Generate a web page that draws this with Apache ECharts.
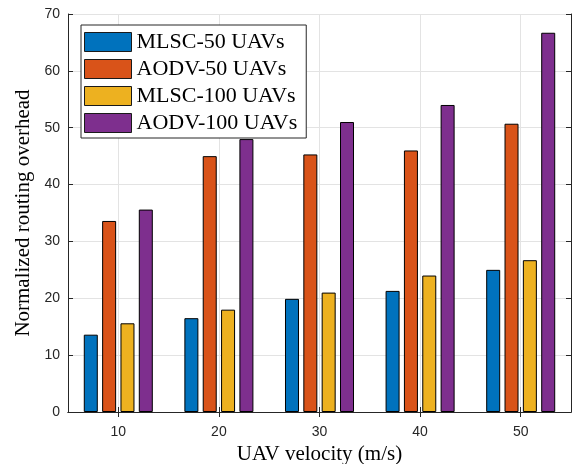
<!DOCTYPE html>
<html>
<head>
<meta charset="utf-8">
<script src="https://cdn.jsdelivr.net/npm/echarts@6/dist/echarts.min.js"></script>
<style>
  html, body { margin: 0; padding: 0; background: #fff; }
  #chart { width: 578px; height: 464px; }
</style>
</head>
<body>
<div id="chart"></div>
<script>
// UAV velocity groups (m/s)
const categories = ['10', '20', '30', '40', '50'];

// Normalized routing overhead per protocol / swarm size
const mlsc50 = [13.6, 16.5, 19.9, 21.3, 25.0];
const aodv50 = [33.6, 45.0, 45.3, 46.0, 50.7];
const mlsc100 = [15.6, 18.0, 21.0, 24.0, 26.7];
const aodv100 = [35.6, 48.0, 51.0, 54.0, 66.7];

const seriesNames = ['MLSC-50 UAVs', 'AODV-50 UAVs', 'MLSC-100 UAVs', 'AODV-100 UAVs'];
const seriesColors = ['#0072BD', '#D95319', '#EDB120', '#7E2F8E'];

// y axis range and step
const yMin = 0;
const yMax = 70;
const yStep = 10;

const axisColor = '#262626';
const gridColor = '#e3e3e3';
const serif = '"Liberation Serif", "Times New Roman", serif';
const sans = '"Liberation Sans", Arial, Helvetica, sans-serif';

const chart = echarts.init(document.getElementById('chart'), null, { renderer: 'canvas' });

const values = [mlsc50, aodv50, mlsc100, aodv100];

const option = {
  backgroundColor: '#ffffff',
  animation: false,
  grid: { left: 68, right: 7, top: 14, bottom: 52, containLabel: false, outerBoundsMode: 'none' },
  legend: {
    orient: 'vertical',
    left: 81,
    top: 25,
    padding: [6, 9, 4, 3],
    itemWidth: 47,
    itemHeight: 19,
    itemGap: 5,
    icon: 'rect',
    backgroundColor: '#ffffff',
    borderColor: axisColor,
    borderWidth: 1,
    borderRadius: 0,
    itemStyle: { borderColor: '#1a1a1a', borderWidth: 1 },
    textStyle: { fontFamily: serif, fontSize: 22, color: '#000', lineHeight: 20, padding: [0, 0, 0, 0] },
    data: seriesNames
  },
  xAxis: [
    {
      type: 'category',
      data: categories,
      position: 'bottom',
      name: 'UAV velocity (m/s)',
      nameLocation: 'middle',
      nameGap: 23,
      nameTextStyle: { fontFamily: serif, fontSize: 21, color: '#000' },
      axisLine: { show: true, lineStyle: { color: axisColor, width: 1 } },
      axisTick: { show: true, inside: true, alignWithLabel: true, length: 5, lineStyle: { color: axisColor } },
      axisLabel: { margin: 13, fontFamily: sans, fontSize: 14, color: axisColor },
      splitLine: { show: true, alignWithLabel: true, lineStyle: { color: gridColor, width: 1 } }
    },
    {
      type: 'category',
      data: categories,
      position: 'top',
      axisLine: { show: true, lineStyle: { color: axisColor, width: 1 } },
      axisTick: { show: true, inside: true, alignWithLabel: true, length: 5, lineStyle: { color: axisColor } },
      axisLabel: { show: false },
      splitLine: { show: false }
    }
  ],
  yAxis: [
    {
      type: 'value',
      min: yMin,
      max: yMax,
      interval: yStep,
      position: 'left',
      name: 'Normalized routing overhead',
      nameLocation: 'middle',
      nameGap: 22,
      nameTextStyle: { fontFamily: serif, fontSize: 21, color: '#000' },
      axisLine: { show: true, lineStyle: { color: axisColor, width: 1 } },
      axisTick: { show: true, inside: true, length: 5, lineStyle: { color: axisColor } },
      axisLabel: { margin: 8, fontFamily: sans, fontSize: 14, color: axisColor, padding: [3, 0, 0, 0] },
      splitLine: { show: true, lineStyle: { color: gridColor, width: 1 } }
    },
    {
      type: 'value',
      min: yMin,
      max: yMax,
      interval: yStep,
      position: 'right',
      axisLine: { show: true, lineStyle: { color: axisColor, width: 1 } },
      axisTick: { show: true, inside: true, length: 5, lineStyle: { color: axisColor } },
      axisLabel: { show: false },
      splitLine: { show: false }
    }
  ],
  series: seriesNames.map((name, i) => ({
    name: name,
    type: 'bar',
    xAxisIndex: 0,
    yAxisIndex: 0,
    data: values[i],
    barWidth: 14,
    barGap: '31%',
    itemStyle: { color: seriesColors[i], borderColor: '#000', borderWidth: 1 },
    emphasis: { disabled: true }
  }))
};

chart.setOption(option);
</script>
</body>
</html>
